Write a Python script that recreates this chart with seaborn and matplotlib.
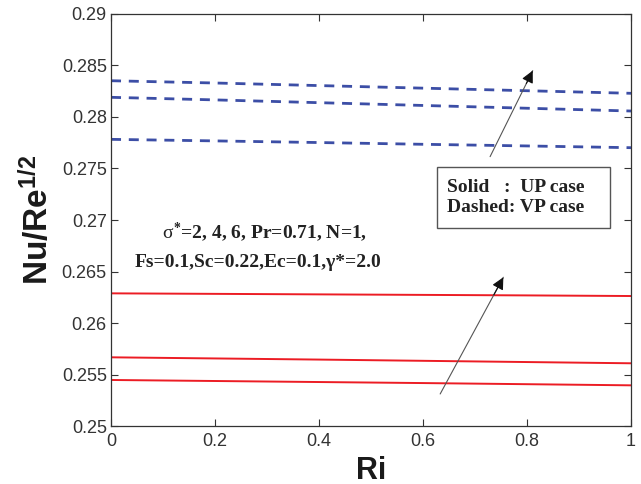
import numpy as np
import pandas as pd
import matplotlib
matplotlib.use("Agg")
import matplotlib.pyplot as plt
from matplotlib.patches import Rectangle
import seaborn as sns

# Richardson number samples
ri = [0.0, 0.2, 0.4, 0.6, 0.8, 1.0]

# VP case (dashed), sigma* = 2, 4, 6
vp_sigma2 = [0.27783, 0.27768, 0.27752, 0.27735, 0.27719, 0.27702]
vp_sigma4 = [0.28191, 0.28166, 0.28139, 0.28112, 0.28085, 0.28058]
vp_sigma6 = [0.28352, 0.28330, 0.28305, 0.28280, 0.28255, 0.28230]

# UP case (solid), sigma* = 2, 4, 6
up_sigma2 = [0.25447, 0.25437, 0.25427, 0.25417, 0.25406, 0.25395]
up_sigma4 = [0.25667, 0.25656, 0.25645, 0.25633, 0.25621, 0.25609]
up_sigma6 = [0.26288, 0.26283, 0.26278, 0.26273, 0.26268, 0.26262]

xticks = [0, 0.2, 0.4, 0.6, 0.8, 1]
xtick_labels = ["0", "0.2", "0.4", "0.6", "0.8", "1"]
yticks = [0.25, 0.255, 0.26, 0.265, 0.27, 0.275, 0.28, 0.285, 0.29]
ytick_labels = ["0.25", "0.255", "0.26", "0.265", "0.27", "0.275", "0.28", "0.285", "0.29"]

sns.set_theme(style="ticks")
plt.rcParams["font.family"] = ["Liberation Sans", "DejaVu Sans"]
plt.rcParams["mathtext.fontset"] = "custom"
plt.rcParams["mathtext.rm"] = "Liberation Serif:bold"
plt.rcParams["mathtext.it"] = "Liberation Serif"
plt.rcParams["mathtext.bf"] = "Liberation Sans:bold"

fig = plt.figure(figsize=(6.41, 4.84), dpi=100)
ax = fig.add_axes([0.1732, 0.1198, 0.8112, 0.8513])

blue = "#3c4ea6"
red = "#ec1c24"

for ys in (vp_sigma2, vp_sigma4, vp_sigma6):
    df = pd.DataFrame({"Ri": ri, "Nu": ys})
    sns.lineplot(data=df, x="Ri", y="Nu", ax=ax, color=blue, lw=2.0,
                 linestyle=(0, (3.6, 2.8)))
for ys in (up_sigma2, up_sigma4, up_sigma6):
    df = pd.DataFrame({"Ri": ri, "Nu": ys})
    sns.lineplot(data=df, x="Ri", y="Nu", ax=ax, color=red, lw=1.4)

ax.set_xlim(0, 1)
ax.set_ylim(0.25, 0.29)
ax.set_xticks(xticks)
ax.set_xticklabels(xtick_labels)
ax.set_yticks(yticks)
ax.set_yticklabels(ytick_labels)
ax.tick_params(direction="in", top=True, right=True, length=5, width=0.8,
               labelsize=13, colors="#333333", pad=3)
ax.tick_params(axis="x", pad=5)
for sp in ax.spines.values():
    sp.set_color("#333333")
    sp.set_linewidth(0.9)

ax.set_xlabel("Ri", fontsize=22, fontweight="bold", color="#1a1a1a", labelpad=4)
ax.set_ylabel(r"Nu/Re$^{\mathbf{1/2}}$", fontsize=24, fontweight="bold",
              color="#1a1a1a", labelpad=5)

serif = ["Liberation Serif", "DejaVu Serif"]
ax.text(0.295, 0.2688, r"$\sigma^{*}$=2, 4, 6, Pr=0.71, N=1,", ha="center",
        va="center", fontsize=14, fontweight="bold", family=serif, color="#222222")
ax.text(0.282, 0.2659, "Fs=0.1,Sc=0.22,Ec=0.1,γ*=2.0", ha="center",
        va="center", fontsize=14, fontweight="bold", family=serif, color="#222222")

# Line-style key box
ax.add_patch(Rectangle((0.627, 0.26922), 0.333, 0.00593, facecolor="white",
                       edgecolor="#555555", lw=1.0, zorder=3))
ax.text(0.646, 0.2722, "Solid   :  UP case\nDashed: VP case", ha="left",
        va="center", fontsize=14, fontweight="bold", family=serif,
        color="#222222", linespacing=1.2, zorder=4)

# Trend arrows: grey shaft with a black filled head
def trend_arrow(tail, head):
    ax.annotate("", xy=head, xytext=tail,
                arrowprops=dict(arrowstyle="-", color="#555555", lw=0.8,
                                shrinkA=0, shrinkB=0))
    back = (head[0] - 0.15 * (head[0] - tail[0]),
            head[1] - 0.15 * (head[1] - tail[1]))
    ax.annotate("", xy=head, xytext=back,
                arrowprops=dict(arrowstyle="-|>", color="#111111", lw=0.8,
                                mutation_scale=18, shrinkA=0, shrinkB=0))

trend_arrow((0.729, 0.27615), (0.811, 0.2845))
trend_arrow((0.633, 0.25311), (0.7545, 0.26444))

fig.savefig("out.png", dpi=100, facecolor="white")
